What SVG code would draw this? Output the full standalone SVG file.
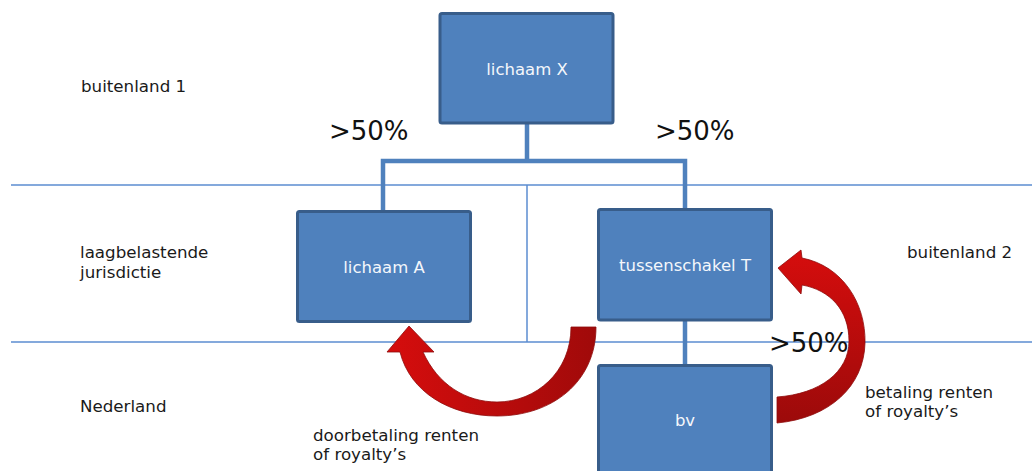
<svg xmlns="http://www.w3.org/2000/svg" width="1032" height="471" viewBox="0 0 1032 471">
<defs>
<style>
.box{fill:#4f81bd;stroke:#385d8a;stroke-width:3}
.bt{font-family:"DejaVu Sans",Verdana,sans-serif;font-size:16.5px;fill:#f4f7fb;text-anchor:middle}
.lbl{font-family:"DejaVu Sans",Verdana,sans-serif;font-size:16.7px;fill:#1a1a1a}
.pct{font-family:"DejaVu Sans",Verdana,sans-serif;font-size:26px;fill:#111}
.sep{stroke:#5b8cd0;stroke-width:1.5;fill:none}
.con{stroke:#4f81bd;stroke-width:4.5;fill:none}
.arr{stroke:#8e0b0b;stroke-width:0.8}
</style>
<linearGradient id="red" x1="0" y1="0" x2="1" y2="0">
<stop offset="0" stop-color="#d60d0d"/>
<stop offset="1" stop-color="#a00a0a"/>
</linearGradient>
<linearGradient id="red2" x1="0" y1="0" x2="0" y2="1">
<stop offset="0" stop-color="#d60d0d"/>
<stop offset="1" stop-color="#9c0a0a"/>
</linearGradient>
</defs>
<rect width="1032" height="471" fill="#fff"/>
<g id="separators">
<line class="sep" x1="11" y1="185" x2="1032" y2="185"/>
<line class="sep" x1="11" y1="342" x2="1032" y2="342"/>
<line class="sep" x1="527" y1="185" x2="527" y2="342"/>
</g>
<g id="connectors">
<path class="con" d="M527 123 V161 M383 211 V161 H685 V209"/>
<path class="con" d="M685 320 V365"/>
</g>
<g id="node-x">
<rect class="box" x="440" y="13.5" width="173" height="109.5" rx="2"/>
<text class="bt" x="527" y="75">lichaam X</text>
</g>
<g id="node-a">
<rect class="box" x="297.5" y="211.5" width="173" height="110" rx="2"/>
<text class="bt" x="384" y="273">lichaam A</text>
</g>
<g id="node-t">
<rect class="box" x="598.5" y="209.5" width="173" height="110.5" rx="2"/>
<text class="bt" x="685" y="271">tussenschakel T</text>
</g>
<g id="node-bv">
<rect class="box" x="598.5" y="365.5" width="173" height="120" rx="2"/>
<text class="bt" x="685" y="426">bv</text>
</g>
<g id="arrows">
<path class="arr" fill="url(#red)" d="M409 326 L434 352 L423 352 C438 385 466 402 497 402 C536 402 571 372 571 327 L596 327 C596 382 552 416 497 416 C450 416 410 392 400 352 L387 352 Z"/>
<path class="arr" fill="url(#red2)" d="M778 268 L801 250 L802 258 C843 266 866 304 865 343 C864 386 830 418 777 423 L777 397 C820 394 849 372 849 341 C849 310 830 290 802 285 L801 294 Z"/>
</g>
<g id="labels">
<text class="lbl" x="81" y="92">buitenland 1</text>
<text class="lbl" x="80" y="258">laagbelastende</text>
<text class="lbl" x="80" y="278">jurisdictie</text>
<text class="lbl" x="80" y="412">Nederland</text>
<text class="lbl" x="907" y="258">buitenland 2</text>
<text class="lbl" x="313" y="441">doorbetaling renten</text>
<text class="lbl" x="313" y="460">of royalty’s</text>
<text class="lbl" x="865" y="398">betaling renten</text>
<text class="lbl" x="865" y="417">of royalty’s</text>
<text class="pct" x="329" y="140">&gt;50%</text>
<text class="pct" x="655" y="140">&gt;50%</text>
<text class="pct" x="769" y="352">&gt;50%</text>
</g>
</svg>
